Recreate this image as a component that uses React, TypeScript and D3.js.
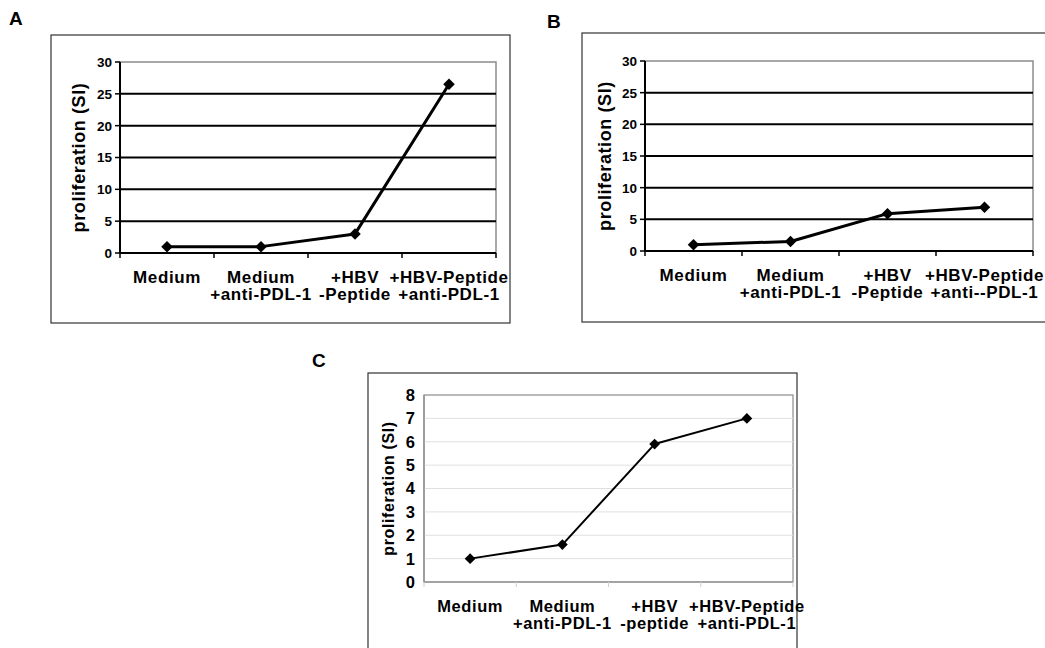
import React from "react";
import * as d3 from "d3";

const categoriesA: string[][] = [["Medium"], ["Medium", "+anti-PDL-1"], ["+HBV", "-Peptide"], ["+HBV-Peptide", "+anti-PDL-1"]];
const categoriesB: string[][] = [["Medium"], ["Medium", "+anti-PDL-1"], ["+HBV", "-Peptide"], ["+HBV-Peptide", "+anti--PDL-1"]];
const categoriesC: string[][] = [["Medium"], ["Medium", "+anti-PDL-1"], ["+HBV", "-peptide"], ["+HBV-Peptide", "+anti-PDL-1"]];
const valuesA: number[] = [1, 1, 3, 26.5];
const valuesB: number[] = [1, 1.5, 5.9, 6.9];
const valuesC: number[] = [1, 1.6, 5.9, 7.0];
const ticksAB: number[] = [0, 5, 10, 15, 20, 25, 30];
const ticksC: number[] = [0, 1, 2, 3, 4, 5, 6, 7, 8];
const yTitle = "proliferation (SI)";

const FONT = "'Liberation Sans', Arial, sans-serif";

type PanelProps = {
  letter: string;
  letterPos: [number, number];
  box: [number, number, number, number];
  plot: { left: number; top: number; right: number; bottom: number };
  cats: string[][];
  values: number[];
  ticks: number[];
  style: "bold" | "light";
  tickFont: number;
  titleFont: number;
  titleX: number;
  labelFont: number;
};

function Panel(p: PanelProps) {
  const { plot } = p;
  const yMax = p.ticks[p.ticks.length - 1];
  const y = d3.scaleLinear().domain([0, yMax]).range([plot.bottom, plot.top]);
  const x = d3.scaleBand<number>().domain(p.cats.map((_, i) => i)).range([plot.left, plot.right]).padding(0);
  const cx = (i: number) => (x(i) as number) + x.bandwidth() / 2;
  const line = d3.line<number>().x((_, i) => cx(i)).y((v) => y(v));
  const bold = p.style === "bold";
  const marker = d3.symbol().type(d3.symbolSquare).size(bold ? 66 : 58)();
  const boundaries = d3.range(p.cats.length + 1).map((i) => plot.left + i * x.bandwidth());
  const [bx, by, bw, bh] = p.box;
  return (
    <g>
      <text x={p.letterPos[0]} y={p.letterPos[1]} fontFamily={FONT} fontWeight="bold" fontSize={19} fill="#000">{p.letter}</text>
      <rect x={bx} y={by} width={bw} height={bh} fill="#fff" stroke="#333" strokeWidth={1.2} />
      <rect x={plot.left} y={plot.top} width={plot.right - plot.left} height={plot.bottom - plot.top} fill="none" stroke="#8c8c8c" strokeWidth={bold ? 1.5 : 1.2} />
      {p.ticks.filter((t) => t > 0 && t < yMax).map((t) => (
        <line key={"g" + t} x1={plot.left} x2={plot.right} y1={y(t)} y2={y(t)} stroke={bold ? "#000" : "#e0e0e0"} strokeWidth={bold ? 2 : 1} />
      ))}
      <line x1={plot.left} x2={plot.left} y1={plot.top} y2={plot.bottom} stroke={bold ? "#000" : "#8c8c8c"} strokeWidth={bold ? 2 : 1.2} />
      <line x1={plot.left} x2={plot.right} y1={plot.bottom} y2={plot.bottom} stroke={bold ? "#000" : "#8c8c8c"} strokeWidth={bold ? 2 : 1.2} />
      {bold && p.ticks.map((t) => (
        <line key={"yt" + t} x1={plot.left - 5} x2={plot.left} y1={y(t)} y2={y(t)} stroke="#000" strokeWidth={1.5} />
      ))}
      {boundaries.map((bxp, i) => (
        <line key={"xt" + i} x1={bxp} x2={bxp} y1={plot.bottom} y2={plot.bottom + 5} stroke={bold ? "#000" : "#d0d0d0"} strokeWidth={bold ? 1.5 : 1} />
      ))}
      {p.ticks.map((t) => (
        <text key={"yl" + t} x={plot.left - (bold ? 8 : 9)} y={y(t)} dy="0.36em" textAnchor="end" fontFamily={FONT} fontWeight="bold" fontSize={p.tickFont} fill="#000">{t}</text>
      ))}
      <text transform={`translate(${p.titleX},${(plot.top + plot.bottom) / 2}) rotate(-90)`} textAnchor="middle" dy="0.35em" fontFamily={FONT} fontWeight="bold" fontSize={p.titleFont} letterSpacing={0.6} fill="#000">{yTitle}</text>
      {p.cats.map((lines, i) => (
        <text key={"xl" + i} textAnchor="middle" fontFamily={FONT} fontWeight="bold" fontSize={p.labelFont} letterSpacing={0.6} fill="#000">
          {lines.map((ln, j) => (
            <tspan key={j} x={cx(i)} y={plot.bottom + 30 + j * 17}>{ln}</tspan>
          ))}
        </text>
      ))}
      <path d={line(p.values) || ""} fill="none" stroke="#000" strokeWidth={bold ? 3 : 2} strokeLinejoin="round" />
      {p.values.map((v, i) => (
        <path key={"m" + i} d={marker || ""} transform={`translate(${cx(i)},${y(v)}) rotate(45)`} fill="#000" />
      ))}
    </g>
  );
}

export default function App() {
  return (
    <svg width={1045} height={648} style={{ position: "absolute", left: 0, top: 0, background: "#fff" }}>
      <rect x={0} y={0} width={1045} height={648} fill="#fff" />
      <Panel
        letter="A" letterPos={[9, 25]} box={[51, 35, 459, 288]}
        plot={{ left: 120, top: 62, right: 496, bottom: 253 }}
        cats={categoriesA} values={valuesA} ticks={ticksAB} style="bold"
        tickFont={13.5} titleFont={18} titleX={79} labelFont={17}
      />
      <Panel
        letter="B" letterPos={[547, 28]} box={[582, 33, 470, 289]}
        plot={{ left: 645, top: 61, right: 1033, bottom: 251 }}
        cats={categoriesB} values={valuesB} ticks={ticksAB} style="bold"
        tickFont={13.5} titleFont={18} titleX={605} labelFont={17}
      />
      <Panel
        letter="C" letterPos={[312, 367]} box={[368, 373, 429, 285]}
        plot={{ left: 424, top: 395, right: 793, bottom: 582 }}
        cats={categoriesC} values={valuesC} ticks={ticksC} style="light"
        tickFont={16.5} titleFont={16} titleX={388} labelFont={16.5}
      />
    </svg>
  );
}
